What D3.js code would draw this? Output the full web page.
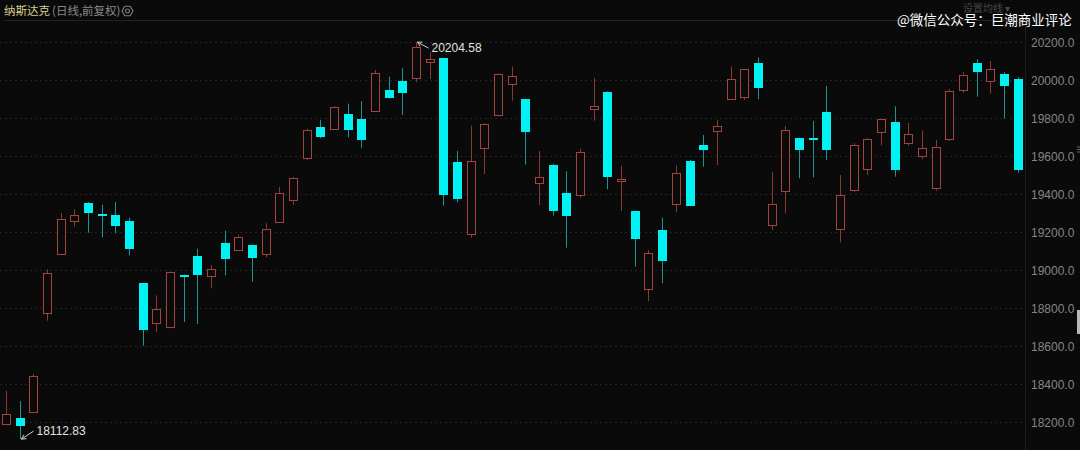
<!DOCTYPE html>
<html><head><meta charset="utf-8">
<script src="https://cdn.jsdelivr.net/npm/d3@7"></script>
<style>
html,body{margin:0;padding:0;background:#0a0a0a;overflow:hidden;}
svg{display:block;}
</style></head>
<body>
<svg id="c" width="1080" height="450"></svg>
<script>
const open = [18190.8,18225.6,18254,18779,19089.9,19260.6,19358.6,19296.5,19292.2,19262.2,
18933.9,18721,18703.6,18977.6,19077.7,18968.7,19146.3,19111,19137.3,19090.9,
19258.5,19368.7,19592.6,19759.2,19747,19827.7,19801.3,19838.2,19952.6,20000,
20019.5,20098.5,20119.6,19571.5,19195.3,19645.3,19822.4,19982.6,19902.5,19464,
19557.3,19408.2,19399.2,19854,19943.6,19471.4,19316.5,18905.4,19213.2,19350.2,
19578.4,19661.1,19738.1,19905.1,19912,20093.3,19237.4,19420.3,19699.6,19701.2,
19836.6,19218.5,19424,19536.2,19729.6,19782.3,19669.6,19606.3,19439.8,19698,
19956.3,20093.3,19996.3,20035.3,20009];
const close = [18243.5,18183.4,18443.8,18988.2,19274.3,19292.2,19305.9,19291.2,19235.8,19113.1,
18684.1,18796.9,18993.4,18972.3,18977.6,19007.7,19060.4,19179.5,19067.2,19221.6,
19411.3,19487.2,19740.2,19706.5,19864.6,19743.4,19692.8,20040.6,19908.8,19935.2,
20180.8,20114.4,19399.2,19378.1,19578.4,19771.8,20036.9,20024.8,19729.6,19494.1,
19316.5,19284.9,19624.2,19869.8,19494.1,19482,19168.9,19093.6,19049.8,19515.2,
19342.8,19636.4,19762.8,20012.1,20061.7,19959.4,19350.2,19740.2,19638,19689.1,
19634.8,19397.6,19661.1,19695.9,19798.2,19529.4,19719.1,19646.9,19653.8,19948.9,
20033.2,20047.4,20061.7,19970,19531];
const high = [18367.9,18313.6,18455.9,19007.7,19304.4,19323.9,19362.3,19348.1,19362.3,19279.6,
18935,18870.6,18996,18980,19116.2,19028.7,19211.1,19190,19138,19250.1,
19440.3,19494.1,19748.6,19794.5,19868,19880.4,19893,20058,20022.7,20066.9,
20204.58,20151.2,20121,19631.1,19764.4,19777.1,20039.5,20075.4,19903.5,19631.1,
19562.6,19524.1,19643.2,20014.2,19945,19552,19317.5,19107.8,19279.6,19553.6,
19583.7,19715.4,19794.5,20075.4,20063,20124.9,19518.8,19762.8,19700.5,19789.2,
19973.6,19504.6,19671.7,19699.6,19800,19866.7,19778.7,19738.1,19689.1,19957.8,
20047.4,20114.4,20105.4,20045.8,20019.5];
const low = [18187,18112.83,18250,18736.8,19086.7,19232.2,19200.5,19176.3,19197.4,19081.4,
18605,18677.2,18696.7,18730,18719.4,18907.5,18976,19105.7,18942.3,19070.9,
19257,19347.6,19583.7,19698,19741.8,19703.3,19646.9,19836.6,19908,19820.8,
19993.1,20010.5,19342.8,19360.7,19174.2,19509.9,19820.8,19896.2,19560,19346.5,
19290.1,19121.5,19385,19790.8,19429.3,19314.9,19021.4,18840.6,18933.9,19308.1,
19341,19548.4,19557.3,19902.5,19899.9,19903.6,19214.8,19302.8,19487.2,19492.5,
19583.7,19149.9,19416.6,19504.6,19661.1,19495.7,19659,19587.4,19421.9,19683.8,
19938.3,19917.3,19933.1,19801.3,19516.7];
const categories = open.map((_, i) => "K" + (i + 1));
const yTicks = [18200,18400,18600,18800,19000,19200,19400,19600,19800,20000,20200];
const titleMain = "纳斯达克";
const titleSub = "(日线,前复权)";
const watermark = "@微信公众号：巨潮商业评论";
const maLabel = "设置均线 ▾";

const svg = d3.select("#c");
const W = 1080, H = 450;
svg.append("rect").attr("width", W).attr("height", H).attr("fill", "#0a0a0a");

const x = d3.scaleBand().domain(categories).range([-0.8, 1024.4]).paddingInner(0.34).paddingOuter(0.17);
const y = d3.scaleLinear().domain([18200, 20200]).range([422.6, 43.0]);

// top line
svg.append("line").attr("x1", 4).attr("x2", 1025).attr("y1", 20.5).attr("y2", 20.5)
  .attr("stroke", "#232323").attr("stroke-width", 1);

// grid
svg.append("g").selectAll("line").data(yTicks).join("line")
  .attr("x1", 0).attr("x2", 1025)
  .attr("y1", d => Math.round(y(d)) - 0.5).attr("y2", d => Math.round(y(d)) - 0.5)
  .attr("stroke", "#242424").attr("stroke-width", 1).attr("stroke-dasharray", "2,3");

// divider
svg.append("line").attr("x1", 1025.5).attr("x2", 1025.5).attr("y1", 21).attr("y2", H)
  .attr("stroke", "#1c1c1c");

// axis
const axis = d3.axisRight(y).tickValues(yTicks).tickFormat(d3.format(".1f")).tickSize(0).tickPadding(0);
const ag = svg.append("g").attr("transform", "translate(1031,0)").call(axis);
ag.select(".domain").remove();
ag.selectAll("text").attr("fill", "#858585").attr("font-size", "12px")
  .attr("font-family", "'Liberation Sans', Arial, sans-serif");

// candles
const data = categories.map((c, i) => ({c, o: open[i], h: high[i], l: low[i], cl: close[i]}));
const bw = Math.round(x.bandwidth());
const g = svg.append("g");
data.forEach(d => {
  const cx = Math.round(x(d.c) + x.bandwidth() / 2) + 0.5;
  const up = d.cl >= d.o;
  const top = y(Math.max(d.o, d.cl)), bot = y(Math.min(d.o, d.cl));
  const x0 = cx - 0.5 - Math.floor(bw / 2);
  if (up) {
    const col = "#a4443e";
    g.append("line").attr("x1", cx).attr("x2", cx).attr("y1", y(d.h)).attr("y2", top).attr("stroke", "#8c3833");
    g.append("line").attr("x1", cx).attr("x2", cx).attr("y1", bot).attr("y2", y(d.l)).attr("stroke", "#8c3833");
    const hh = Math.max(1, bot - top);
    g.append("rect").attr("x", x0 + 0.5).attr("y", Math.round(top) + 0.5).attr("width", bw - 1)
      .attr("height", Math.max(1, Math.round(hh)))
      .attr("fill", "#0a0a0a").attr("stroke", col).attr("stroke-width", 1);
  } else {
    g.append("line").attr("x1", cx).attr("x2", cx).attr("y1", y(d.h)).attr("y2", y(d.l)).attr("stroke", "#1c9494");
    g.append("rect").attr("x", x0).attr("y", Math.round(top)).attr("width", bw)
      .attr("height", Math.max(2, Math.round(bot - top))).attr("fill", "#00f2f2");
  }
});

// max / min annotations
const iMax = d3.maxIndex(high), iMin = d3.minIndex(low);
function annot(i, val, dx, dy) {
  const px = Math.round(x(categories[i]) + x.bandwidth() / 2) + 0.5;
  const py = y(val);
  const tx = px + dx, ty = py + dy;
  svg.append("line").attr("x1", px + 1).attr("y1", py).attr("x2", tx - 3).attr("y2", ty)
    .attr("stroke", "#cfcfcf").attr("stroke-width", 1);
  const ang = Math.atan2(ty - py, tx - 3 - px - 1);
  const a1 = ang + 0.5, a2 = ang - 0.5;
  svg.append("path").attr("d", `M${px+1+5*Math.cos(a1)},${py+5*Math.sin(a1)} L${px+1},${py} L${px+1+5*Math.cos(a2)},${py+5*Math.sin(a2)}`)
    .attr("fill", "none").attr("stroke", "#cfcfcf");
  svg.append("text").attr("x", tx).attr("y", ty).attr("dy", "0.35em")
    .attr("fill", "#e2e2e2").attr("font-size", "12px")
    .attr("font-family", "'Liberation Sans', Arial, sans-serif").text(val.toFixed(2));
}
annot(iMax, high[iMax], 15, 6);
annot(iMin, low[iMin], 16, -8);

// title
svg.append("text").attr("x", 4).attr("y", 11).attr("dy", "0.35em").attr("fill", "#d8cd8e")
  .attr("font-size", "11.5px").attr("font-family", "'Noto Sans CJK SC', sans-serif").text(titleMain);
svg.append("text").attr("x", 52).attr("y", 11).attr("dy", "0.35em").attr("fill", "#8a8a8a")
  .attr("font-size", "11.5px").attr("font-family", "'Noto Sans CJK SC', sans-serif").text(titleSub);
// gear icon
const gear = svg.append("g").attr("transform", "translate(127.5,11)");
gear.append("path").attr("d", d3.range(6).map(k => {
    const a = k * Math.PI / 3;
    return (k ? "L" : "M") + (5.5 * Math.cos(a)) + "," + (5.5 * Math.sin(a));
  }).join("") + "Z").attr("fill", "none").attr("stroke", "#7a7a7a").attr("stroke-width", 1.2);
gear.append("circle").attr("r", 2).attr("fill", "none").attr("stroke", "#7a7a7a").attr("stroke-width", 1.2);

// MA label (dim, sits behind the watermark as in the source)
svg.append("text").attr("x", 963).attr("y", 8).attr("dy", "0.35em").attr("fill", "#474747")
  .attr("font-size", "10px").attr("font-family", "'Noto Sans CJK SC', sans-serif").text(maLabel);

// watermark
svg.append("text").attr("x", 897).attr("y", 20.5).attr("dy", "0.35em").attr("fill", "#ffffff")
  .attr("font-size", "13.5px").attr("font-family", "'Noto Sans CJK SC', sans-serif")
  .attr("stroke", "#000").attr("stroke-width", 0.3).attr("paint-order", "stroke").text(watermark);

// right edge widgets
svg.append("rect").attr("x", 1077).attr("y", 310).attr("width", 3).attr("height", 24).attr("fill", "#b8b8b8");
[147, 149.5, 152].forEach(yy => svg.append("line").attr("x1", 1077).attr("x2", 1080)
  .attr("y1", yy).attr("y2", yy).attr("stroke", "#666"));
</script>
</body></html>
